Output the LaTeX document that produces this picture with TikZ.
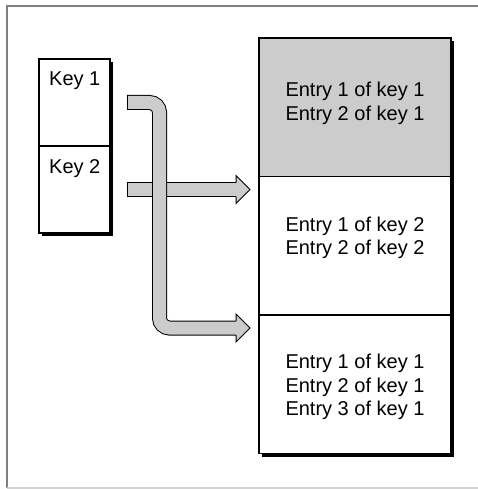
\documentclass[tikz,border=0pt]{standalone}
\usepackage{fontspec}
\setmainfont{Liberation Sans}
\usetikzlibrary{calc,positioning,shadows}

\begin{document}
\begin{tikzpicture}[
  x=1pt, y=1pt,
  cell/.style={draw, line width=1.2pt, inner sep=0pt, outer sep=0pt, fill=white},
  keycell/.style={cell, minimum width=71pt, minimum height=87pt},
  entrycell/.style={cell, minimum width=192pt, minimum height=138.5pt},
  boxshadow/.style={drop shadow={shadow xshift=3pt, shadow yshift=-3pt, fill=black, opacity=1}},
  txt/.style={font=\fontsize{20}{23.5}\selectfont, inner sep=0pt, align=center},
  shaft/.style={line width=13pt, draw=gray!40, rounded corners=10pt,
    preaction={draw=black, line width=15pt, shorten <=-1pt}},
  head/.style={fill=gray!40, draw=black, line width=1pt, line join=miter}
]
\useasboundingbox (0,0) rectangle (478,-489);
% frame
\draw[gray, line width=1.2pt] (478,-6) -- (7,-6) -- (7,-488);
\draw[gray!35, line width=1.2pt] (7,-488) -- (478,-488);

% keys
\node[keycell, boxshadow] (key1) at (74.5,-102.5) {};
\node[keycell, boxshadow, below=0pt of key1] (key2) {};
\node[txt, below right=13pt and 10pt of key1.north west] (k1) {Key 1};
\node[txt, below right=13pt and 10pt of key2.north west] (k2) {Key 2};

% entries
\node[entrycell, boxshadow, fill=gray!40] (cell1) at (355,-107.25) {};
\node[entrycell, boxshadow, below=0pt of cell1] (cell2) {};
\node[entrycell, boxshadow, below=0pt of cell2] (cell3) {};
\node[txt, below=44pt of cell1.north] (e1) {Entry 1 of key 1\\Entry 2 of key 1};
\node[txt, below=40pt of cell2.north] (e2) {Entry 1 of key 2\\Entry 2 of key 2};
\node[txt, below=39pt of cell3.north] (e3) {Entry 1 of key 1\\Entry 2 of key 1\\Entry 3 of key 1};

% arrows
\coordinate[right=18pt of key1.east] (s1);
\coordinate[right=18pt of key2.east] (s2);
\coordinate (t1) at ($(cell3.north west)+(-9,-13)$);
\coordinate (t2) at ($(s2 -| cell2.west)+(-9,0)$);
\coordinate (h1) at ($(t1)+(-14,0)$);
\coordinate (h2) at ($(t2)+(-14,0)$);
\draw[shaft] (s2) -- (h2);
\filldraw[head] ($(h2)+(0,7)$) -- ++(0,7) -- (t2) -- ($(h2)+(0,-14)$) -- ++(0,7);
\draw[shaft] (s1) -- ++(31.5,0) |- (h1);
\filldraw[head] ($(h1)+(0,7)$) -- ++(0,7) -- (t1) -- ($(h1)+(0,-14)$) -- ++(0,7);
\end{tikzpicture}
\end{document}
